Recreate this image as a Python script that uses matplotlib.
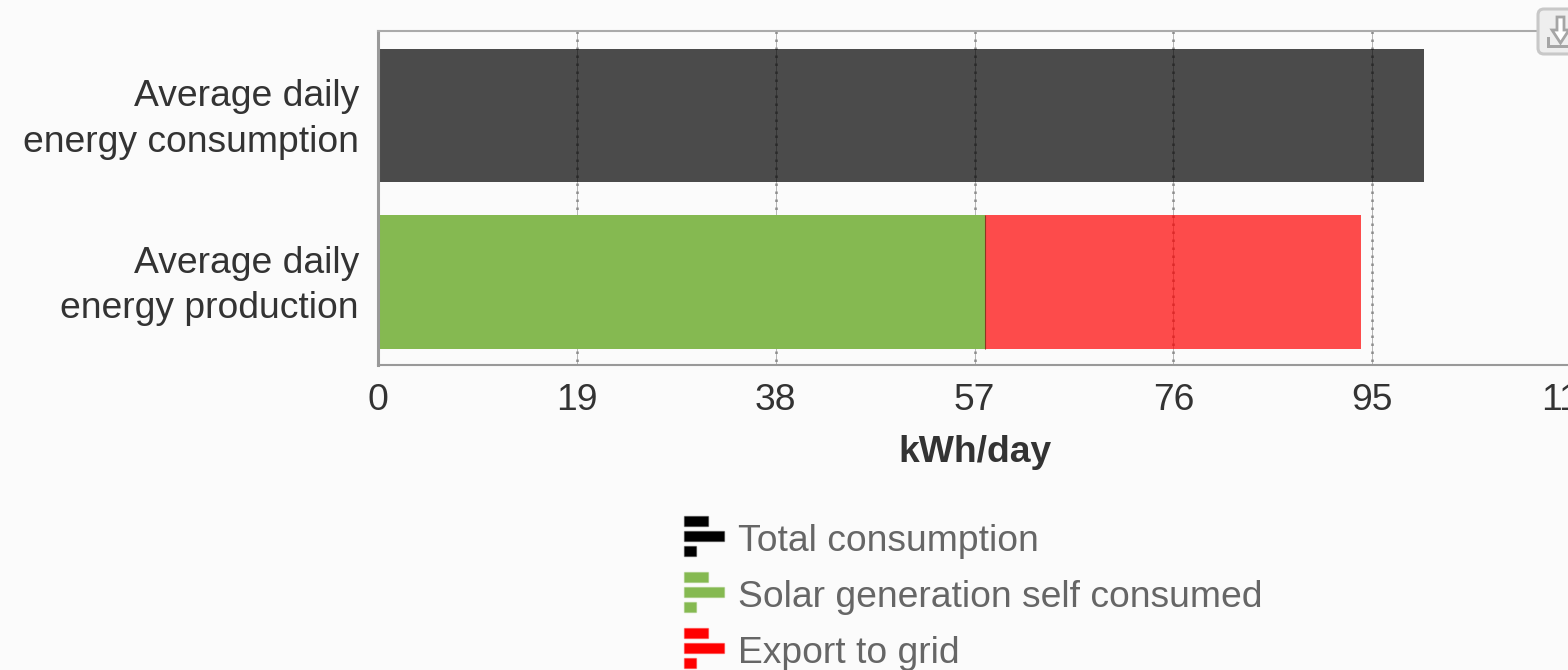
import matplotlib
matplotlib.use('Agg')
import matplotlib.pyplot as plt
from matplotlib.patches import FancyBboxPatch, Rectangle, Polygon
from matplotlib.transforms import Affine2D

categories = ['Average daily\nenergy consumption', 'Average daily\nenergy production']
total_consumption = [100, 0]
self_consumed = [0, 57.8]
export_grid = [0, 35.9]
xticks = [0, 19, 38, 57, 76, 95, 114]
legend_names = ['Total consumption', 'Solar generation self consumed', 'Export to grid']
legend_colors = ['#000000', '#85b951', '#ff0000']

W, H = 1568, 670
BG = '#fbfbfb'
FS = 26.8
BAR_H = 0.805
YTOP = -0.508

plt.rcParams['font.family'] = ['Liberation Sans', 'DejaVu Sans']

fig = plt.figure(figsize=(W / 100, H / 100), dpi=100, facecolor=BG)
# axes runs past the right edge of the image on purpose, the 114 tick gets cut off
ax = fig.add_axes([378 / W, 1 - 365 / H, (1571 - 378) / W, 334 / H], facecolor=BG)
# top-left pixel coordinates for the decorations outside the axes
px = Affine2D().scale(1, -1).translate(0, H)

y = range(len(categories))
ax.barh(y, total_consumption, height=BAR_H, color='#000000', alpha=0.7, zorder=2)
ax.barh(y, self_consumed, left=0.2, height=BAR_H, color=legend_colors[1], zorder=2)
lefts = [0.2 + v for v in self_consumed]
ax.barh(y, export_grid, left=lefts, height=BAR_H, color=legend_colors[2], alpha=0.7, zorder=2)
# thin dark seam between the green and the red part
ax.vlines(lefts[1], 1 - BAR_H / 2, 1 + BAR_H / 2, color='#8a3a20', linewidth=0.8, zorder=3)

ax.set_xlim(0, 114)
ax.set_ylim(1.5, YTOP)
ax.set_xticks(xticks)
ax.set_yticks(list(y))
ax.set_yticklabels([])
# category labels as annotations, tick labels sit a few pixels too low
for i, cat in zip(y, categories):
    ax.annotate(cat, xy=(0, i), xycoords=ax.get_yaxis_transform(), xytext=(-19, -4),
                textcoords='offset pixels', ha='right', va='center', fontsize=FS,
                color='#333333', linespacing=1.39)
ax.tick_params(axis='y', length=0)
ax.tick_params(axis='x', length=0, pad=13, labelsize=FS, labelcolor='#333333')
for lab in ax.get_xticklabels():
    lab.set_clip_on(True)
    lab.set_clip_box(fig.bbox)
ax.set_xlabel('kWh/day', fontsize=FS, fontweight='bold', color='#333333')
ax.xaxis.set_label_coords((975 - 378) / (1571 - 378), -0.211)

# grid is a thin line with square dots on top
ax.grid(axis='x', color='#b5b5b5', linewidth=0.7, zorder=1)
ax.vlines(xticks[1:-1], YTOP, 1.5, color='#8c8c8c', linewidth=1.8,
          linestyle=(0, (1.0, 2.2)), zorder=1)
ax.set_axisbelow(True)

ax.spines['right'].set_visible(False)
ax.spines['top'].set_color('#aaaaaa')
ax.spines['top'].set_linewidth(1.5)
ax.spines['bottom'].set_color('#999999')
ax.spines['bottom'].set_linewidth(1.5)
ax.spines['left'].set_color('#999999')
ax.spines['left'].set_linewidth(2.2)

# legend built by hand, matplotlib has no handle like these little bars
for i, (name, col) in enumerate(zip(legend_names, legend_colors)):
    top = 516 + i * 56
    for dy, bw in [(0, 24), (15, 40), (30, 12)]:
        fig.add_artist(Rectangle((684, top + dy), bw, 10, facecolor=col,
                                 edgecolor=(*matplotlib.colors.to_rgb(col), 0.35), lw=1, transform=px))
    fig.text(738 / W, 1 - (top + 25.6) / H, name, fontsize=FS, color='#666666', va='center')

# export button, top right
fig.add_artist(FancyBboxPatch((1538, 9), 60, 45, boxstyle='round,pad=0,rounding_size=6',
                              facecolor='#eeeeee', edgecolor='#c8c8c8', lw=2.2, transform=px))
arrow = [(1557, 17), (1564, 17), (1564, 30), (1569, 30), (1560.5, 43), (1552, 30), (1557, 30)]
fig.add_artist(Polygon(arrow, closed=True, facecolor='#ffffff', edgecolor='#a5a5a5', lw=2, transform=px))
fig.add_artist(Rectangle((1547, 45), 30, 2.5, color='#a5a5a5', lw=0, transform=px))
fig.add_artist(Rectangle((1547, 37), 2.5, 9, color='#a5a5a5', lw=0, transform=px))

fig.savefig('out.png', dpi=100, facecolor=BG)
